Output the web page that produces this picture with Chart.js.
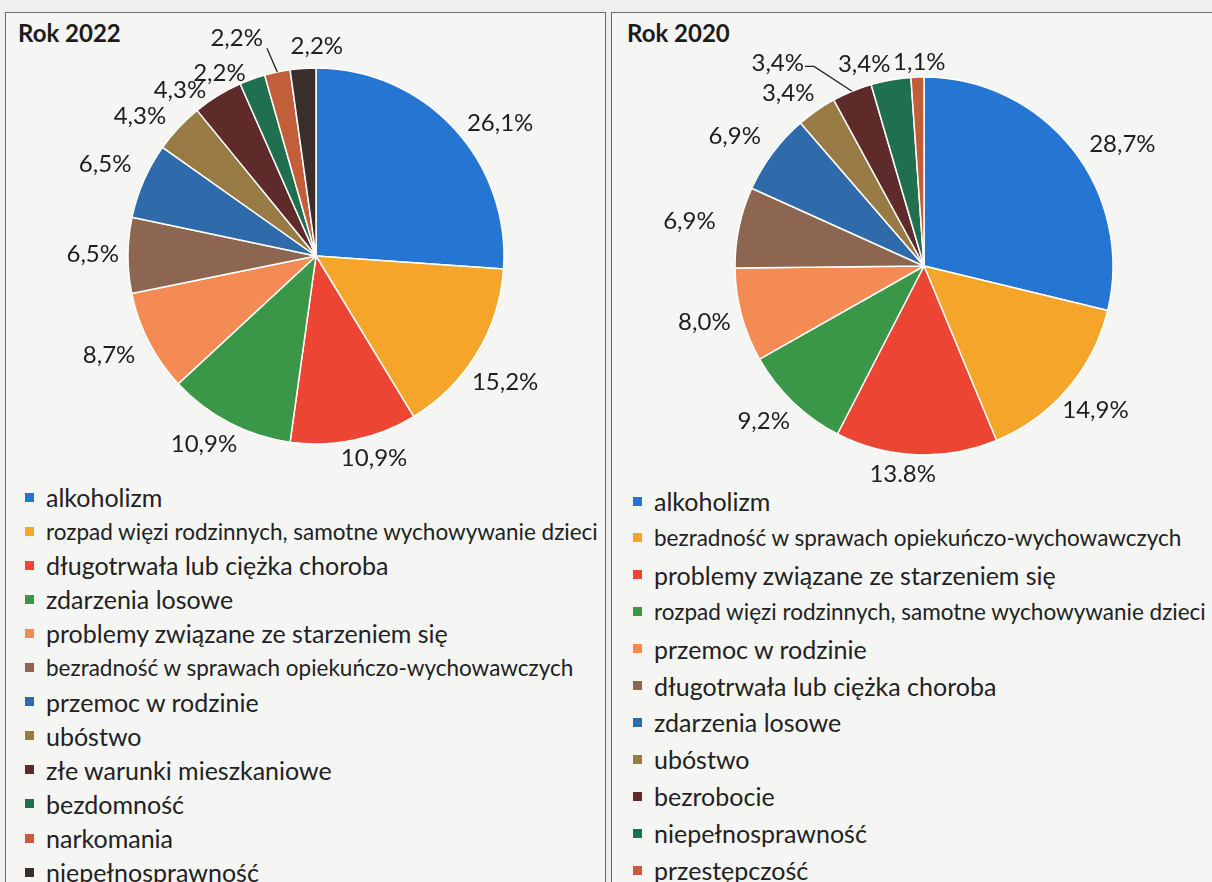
<!DOCTYPE html>
<html>
<head>
<meta charset="utf-8">
<script src="https://cdn.jsdelivr.net/npm/chart.js@4/dist/chart.umd.min.js"></script>
<style>
  body { margin: 0; width: 1212px; height: 882px; overflow: hidden; background: #efefee; position: relative; font-family: Lato, sans-serif; color: #222; }
  .panel { position: absolute; top: 12px; height: 880px; border: 1.5px solid #6b6b6b; border-bottom: none; background: #f5f5f4; }
  #panel1 { left: 5px; width: 599px; }
  #panel2 { left: 611px; width: 620px; }
  .tytul { position: absolute; font-weight: bold; font-size: 24px; line-height: 26px; color: #1c1c1c; }
  canvas { position: absolute; }
  .legenda-wiersz { position: absolute; white-space: nowrap; font-size: 25px; display: flex; align-items: center; }
  .legenda-wiersz.maly { font-size: 22.5px; }
  .kwadrat { width: 9px; height: 9px; margin-right: 12px; flex: none; }
</style>
</head>
<body>
<div class="panel" id="panel1"></div>
<div class="panel" id="panel2"></div>
<div class="tytul" style="left:18px; top:20px">Rok 2022</div>
<div class="tytul" style="left:627px; top:20px">Rok 2020</div>
<canvas id="wykres2022" width="600" height="470" style="left:6px; top:12px"></canvas>
<canvas id="wykres2020" width="598" height="470" style="left:614px; top:12px"></canvas>
<div id="legenda2022"></div>
<div id="legenda2020"></div>

<script>
const kategorie2022 = [
  "alkoholizm",
  "rozpad więzi rodzinnych, samotne wychowywanie dzieci",
  "długotrwała lub ciężka choroba",
  "zdarzenia losowe",
  "problemy związane ze starzeniem się",
  "bezradność w sprawach opiekuńczo-wychowawczych",
  "przemoc w rodzinie",
  "ubóstwo",
  "złe warunki mieszkaniowe",
  "bezdomność",
  "narkomania",
  "niepełnosprawność"
];
const wartosci2022 = [26.1, 15.2, 10.9, 10.9, 8.7, 6.5, 6.5, 4.3, 4.3, 2.2, 2.2, 2.2];

const kategorie2020 = [
  "alkoholizm",
  "bezradność w sprawach opiekuńczo-wychowawczych",
  "problemy związane ze starzeniem się",
  "rozpad więzi rodzinnych, samotne wychowywanie dzieci",
  "przemoc w rodzinie",
  "długotrwała lub ciężka choroba",
  "zdarzenia losowe",
  "ubóstwo",
  "bezrobocie",
  "niepełnosprawność",
  "przestępczość"
];
const wartosci2020 = [28.7, 14.9, 13.8, 9.2, 8.0, 6.9, 6.9, 3.4, 3.4, 3.4, 1.1];

const kolory = [
  "#2576d2", "#f4a52a", "#ec4533", "#3a9748", "#f58b54", "#8c6650",
  "#2f6aaa", "#987a45", "#5e2a2a", "#207050", "#c25e3a", "#3a2e2a"
];

// etykiety procentowe na zewnatrz kola, z recznymi przesunieciami jak w oryginale
const etykietyPlugin = {
  id: "etykiety",
  afterDatasetsDraw(chart, args, opts) {
    const ctx = chart.ctx;
    const meta = chart.getDatasetMeta(0);
    const dane = chart.data.datasets[0].data;
    ctx.save();
    ctx.font = "24px Lato";
    ctx.fillStyle = "#1e1e1e";
    ctx.textAlign = "center";
    ctx.textBaseline = "middle";
    meta.data.forEach((arc, i) => {
      const { x, y, startAngle, endAngle, outerRadius } =
        arc.getProps(["x", "y", "startAngle", "endAngle", "outerRadius"], true);
      const kat = (startAngle + endAngle) / 2;
      const ux = Math.cos(kat), uy = Math.sin(kat);
      const tekst = dane[i].toFixed(1).replace(".", ",") + "%";
      const w = ctx.measureText(tekst).width;
      const h = 18;
      const px = x + (outerRadius + 6) * ux;
      const py = y + (outerRadius + 6) * uy;
      const [dx, dy] = opts.przesuniecia[i] || [0, 0];
      const tx = px + ux * w / 2 + dx;
      const ty = py + uy * h / 2 + dy;

      const linia = opts.linie[i];
      if (linia) {
        const ex = x + outerRadius * ux, ey = y + outerRadius * uy;
        ctx.strokeStyle = "#222";
        ctx.lineWidth = 1.3;
        ctx.beginPath();
        if (linia === "dol") {
          ctx.moveTo(tx + w / 2 + 4, ty + 10);
        } else {
          ctx.moveTo(tx + w / 2 + 1, ty + 3);
          ctx.lineTo(tx + w / 2 + 10, ty + 3);
        }
        ctx.lineTo(ex, ey);
        ctx.stroke();
      }
      ctx.fillText(tekst, tx, ty);
    });
    ctx.restore();
  }
};

function rysujWykres(id, kategorie, wartosci, padding, przesuniecia, linie) {
  return new Chart(document.getElementById(id), {
    type: "pie",
    data: {
      labels: kategorie,
      datasets: [{
        data: wartosci,
        backgroundColor: kolory.slice(0, wartosci.length),
        borderColor: "#ffffff",
        borderWidth: 1.5
      }]
    },
    options: {
      responsive: false,
      animation: false,
      layout: { padding },
      plugins: {
        legend: { display: false },
        tooltip: { enabled: false },
        etykiety: { przesuniecia, linie }
      }
    },
    plugins: [etykietyPlugin]
  });
}

rysujWykres("wykres2022", kategorie2022, wartosci2022,
  { left: 121.25, top: 55.25, right: 101.25, bottom: 37.25 },
  [[18, 6], [-5, 21], [12, 3], [-7, 8], [-11, 7], [-3, -1], [-9, -11], [-15, -1], [-21, 7], [-22, 8], [-34, -19], [16, -7]],
  { 10: "dol" });

rysujWykres("wykres2020", kategorie2020, wartosci2020,
  { left: 120.25, top: 64.25, right: 98.25, bottom: 26.25 },
  [[19, 4], [-2, 12], [-12, 4], [-7, 8], [-6, 3], [-18, -3], [-12, -8], [-10, -5], [-62, -14], [-21, -1], [3, 0]],
  { 8: "bok" });

function rysujLegende(id, kategorie, lewo, gora, odstep) {
  const box = document.getElementById(id);
  kategorie.forEach((nazwa, i) => {
    const wiersz = document.createElement("div");
    wiersz.className = "legenda-wiersz" + (nazwa.length > 40 ? " maly" : "");
    wiersz.style.left = lewo + "px";
    wiersz.style.top = (gora + i * odstep - 15) + "px";
    wiersz.style.height = "30px";
    wiersz.innerHTML = `<span class="kwadrat" style="background:${kolory[i]}"></span>${nazwa}`;
    box.appendChild(wiersz);
  });
}

rysujLegende("legenda2022", kategorie2022, 25, 497, 34.1);
rysujLegende("legenda2020", kategorie2020, 633, 501, 36.9);
</script>
</body>
</html>
